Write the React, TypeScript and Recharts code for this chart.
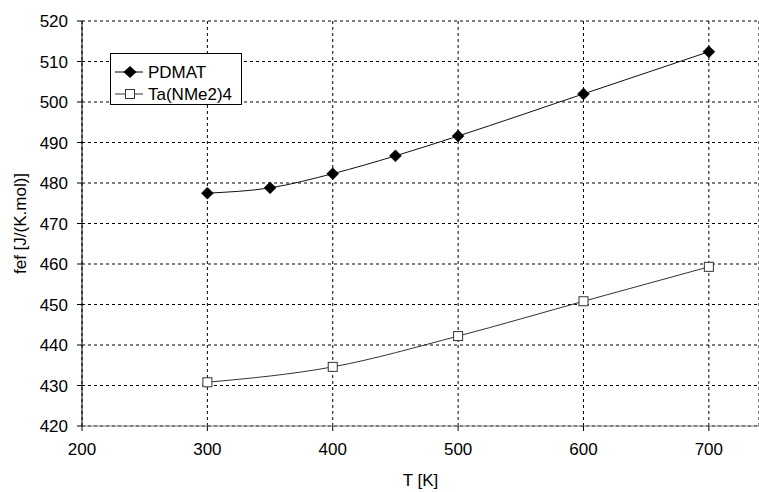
import React from 'react';
import {
  LineChart,
  Line,
  XAxis,
  YAxis,
  CartesianGrid,
} from 'recharts';

const pdmatT = [300, 350, 400, 450, 500, 600, 700];
const pdmatFef = [477.5, 478.8, 482.3, 486.7, 491.6, 502.0, 512.4];
const taT = [300, 400, 500, 600, 700];
const taFef = [430.8, 434.6, 442.2, 450.8, 459.3];
const xTicks = [200, 300, 400, 500, 600, 700];
const yTicks = [420, 430, 440, 450, 460, 470, 480, 490, 500, 510, 520];
const seriesNames = ['PDMAT', 'Ta(NMe2)4'];

const pdmatData = pdmatT.map((t, i) => ({ t, fef: pdmatFef[i] }));
const taData = taT.map((t, i) => ({ t, fef: taFef[i] }));

const FONT = '"Liberation Sans", Arial, sans-serif';
const FS = 17;

const Diamond = (props: any) => {
  const { cx, cy } = props;
  if (cx == null || cy == null) return null;
  const r = 6;
  return (
    <polygon
      points={`${cx},${cy - r} ${cx + r},${cy} ${cx},${cy + r} ${cx - r},${cy}`}
      fill="#000"
      stroke="#000"
      strokeWidth={0.5}
    />
  );
};

const OpenSquare = (props: any) => {
  const { cx, cy } = props;
  if (cx == null || cy == null) return null;
  return (
    <rect x={cx - 4.5} y={cy - 4.5} width={9} height={9} fill="#fff" stroke="#333" strokeWidth={1} />
  );
};

// legend drawn as an overlay so it takes no room from the plot
const LegendBox = () => (
  <svg width={134} height={54} style={{ display: 'block', position: 'absolute', left: 110, top: 53, overflow: 'visible' }}>
    <rect x={0.5} y={0.5} width={131} height={51} fill="#fff" stroke="#000" strokeWidth={1} />
    <line x1={5} x2={33} y1={19} y2={19} stroke="#000" strokeWidth={1} />
    <polygon points="20,13 26.5,19 20,25 13.5,19" fill="#000" />
    <text x={38} y={25} fontSize={FS} fontFamily={FONT} fill="#000">{seriesNames[0]}</text>
    <line x1={5} x2={33} y1={41} y2={41} stroke="#333" strokeWidth={1} />
    <rect x={15.5} y={36.5} width={9} height={9} fill="#fff" stroke="#333" />
    <text x={38} y={47} fontSize={FS} fontFamily={FONT} fill="#000">{seriesNames[1]}</text>
  </svg>
);

export default function App() {
  return (
    <div style={{ position: 'absolute', left: 0, top: 0, width: 759, height: 492, background: '#fff' }}>
      <LineChart
        width={759}
        height={492}
        margin={{ top: 21, right: 0, left: 0, bottom: 0 }}
        style={{ fontFamily: FONT }}
      >
        <CartesianGrid stroke="#000" strokeDasharray="3 3" strokeWidth={1} />
        <XAxis
          type="number"
          dataKey="t"
          domain={[200, 740]}
          ticks={xTicks}
          allowDataOverflow
          height={66}
          stroke="#808080"
          tickSize={5}
          tickMargin={12}
          tick={{ fill: '#000', fontSize: FS, fontFamily: FONT }}
          tickLine={{ stroke: '#000' }}
          label={{ value: 'T [K]', position: 'insideBottom', offset: 6, fill: '#000', fontSize: FS, fontFamily: FONT }}
        />
        <YAxis
          type="number"
          domain={[420, 520]}
          ticks={yTicks}
          width={82}
          stroke="#000"
          tickSize={5}
          tickMargin={9}
          tick={{ fill: '#000', fontSize: FS, fontFamily: FONT }}
          label={{ value: 'fef [J/(K.mol)]', angle: -90, position: 'insideLeft', offset: 20, fill: '#000', fontSize: FS, fontFamily: FONT, style: { textAnchor: 'middle' } }}
        />
        <Line
          data={pdmatData}
          dataKey="fef"
          name={seriesNames[0]}
          type="monotone"
          stroke="#111"
          strokeWidth={1}
          dot={<Diamond />}
          activeDot={false}
          isAnimationActive={false}
        />
        <Line
          data={taData}
          dataKey="fef"
          name={seriesNames[1]}
          type="monotone"
          stroke="#333"
          strokeWidth={1}
          dot={<OpenSquare />}
          activeDot={false}
          isAnimationActive={false}
        />
      </LineChart>
      <LegendBox />
    </div>
  );
}
